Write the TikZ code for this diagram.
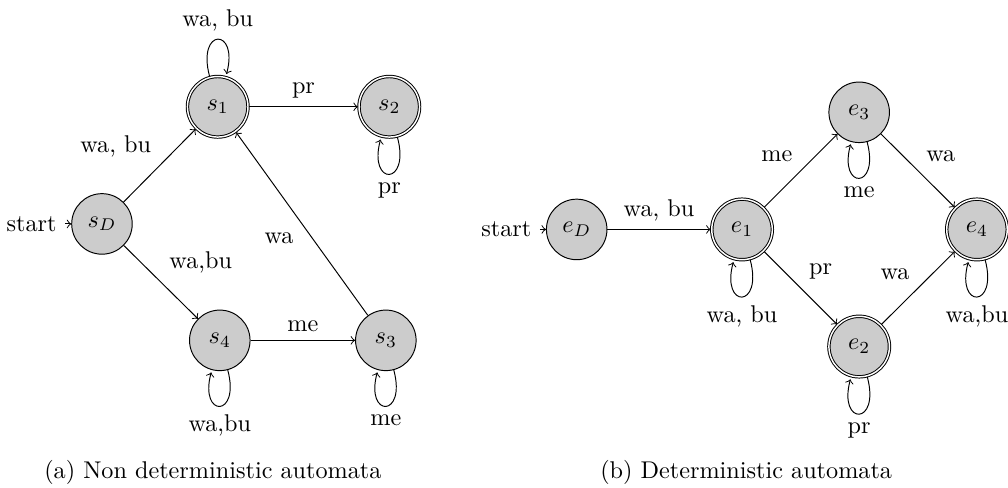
\documentclass[tikz,border=0pt]{standalone}
\usepackage{amsmath}
\usepackage{amssymb}
\usetikzlibrary{automata,arrows}

\begin{document}
\begin{tikzpicture}[->,auto,initial distance=2.5pt,every state/.style={fill=gray!40}]
  \useasboundingbox (0,0) rectangle (14.63,7.07);
  % (a) the non deterministic one
  \node[state,initial] (sD) at (1.48,3.82) {$s_D$};
  \node[state,accepting] (s1) at (3.16,5.52) {$s_1$};
  \node[state,accepting] (s2) at (5.65,5.52) {$s_2$};
  \node[state] (s4) at (3.19,2.13) {$s_4$};
  \node[state] (s3) at (5.60,2.13) {$s_3$};
  \path (sD) edge node {wa, bu} (s1)
             edge node {wa,bu} (s4)
        (s1) edge node {pr} (s2)
             edge [loop above] node {wa, bu} ()
        (s2) edge [loop below] node {pr} ()
        (s4) edge node {me} (s3)
             edge [loop below] node {wa,bu} ()
        (s3) edge node {wa} (s1)
             edge [loop below] node {me} ();
  % (b) the deterministic one
  \node[state,initial] (eD) at (8.37,3.74) {$e_D$};
  \node[state,accepting] (e1) at (10.77,3.74) {$e_1$};
  \node[state] (e3) at (12.47,5.44) {$e_3$};
  \node[state,accepting] (e4) at (14.18,3.74) {$e_4$};
  \node[state,accepting] (e2) at (12.47,2.04) {$e_2$};
  \path (eD) edge node {wa, bu} (e1)
        (e1) edge node {me} (e3)
             edge node {pr} (e2)
             edge [loop below] node {wa, bu} ()
        (e3) edge node {wa} (e4)
             edge [loop below] node {me} ()
        (e2) edge node {wa} (e4)
             edge [loop below] node {pr} ()
        (e4) edge [loop below] node {wa,bu} ();
  % captions
  \node[anchor=base] (capa) at (3.09,0.13) {(a) Non deterministic automata};
  \node[anchor=base] (capb) at (10.83,0.13) {(b) Deterministic automata};
\end{tikzpicture}
\end{document}
